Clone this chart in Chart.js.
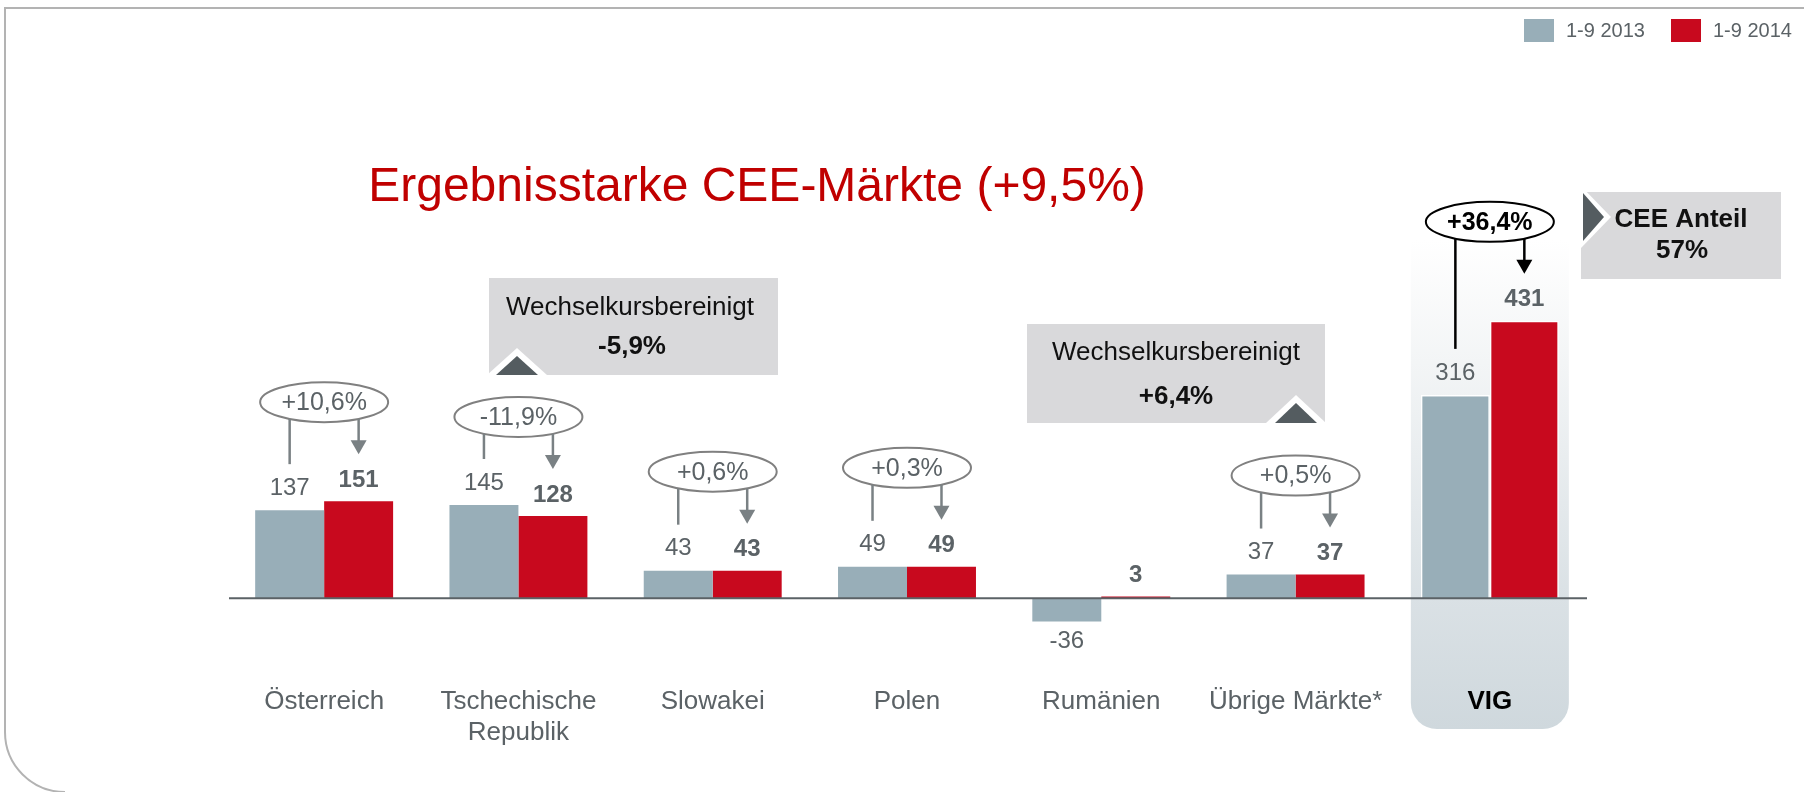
<!DOCTYPE html>
<html>
<head>
<meta charset="utf-8">
<script src="https://cdn.jsdelivr.net/npm/chart.js@4.4.0/dist/chart.umd.min.js"></script>
<style>
  html, body { margin: 0; padding: 0; background: #fff; }
  #wrap { width: 1804px; height: 792px; }
</style>
</head>
<body>
<div id="wrap"><canvas id="chart" width="1804" height="792"></canvas></div>
<script>
// data
var categories = ['Österreich', ['Tschechische', 'Republik'], 'Slowakei', 'Polen', 'Rumänien', 'Übrige Märkte*', 'VIG'];
var seriesLabels = ['1-9 2013', '1-9 2014'];
var values2013 = [137, 145, 43, 49, -36, 37, 316];
var values2014 = [151, 128, 43, 49, 3, 37, 431];
var changes = ['+10,6%', '-11,9%', '+0,6%', '+0,3%', null, '+0,5%', '+36,4%'];
var yRange = [-60, 760];

var titleText = 'Ergebnisstarke CEE-Märkte (+9,5%)';
var fxNote = 'Wechselkursbereinigt';
var fxAdjusted = ['-5,9%', '+6,4%'];
var ceeShare = ['CEE Anteil', '57%'];

var GREY = '#98aeb8', RED = '#c8091e', TXT = '#5b6266', BOX = '#d9d9db';
var FONT = '"Liberation Sans", Arial, Helvetica, sans-serif';
var TOTAL = categories.length - 1;

function font(size, bold) { return (bold ? 'bold ' : '') + size + 'px ' + FONT; }

// y of lower edge of an ellipse at horizontal offset dx
function ellBottom(cy, rx, ry, dx) {
  var k = 1 - (dx * dx) / (rx * rx);
  return cy + ry * Math.sqrt(k > 0 ? k : 0);
}

function tri(ctx, pts, fill) {
  ctx.fillStyle = fill;
  ctx.beginPath();
  ctx.moveTo(pts[0][0], pts[0][1]);
  ctx.lineTo(pts[1][0], pts[1][1]);
  ctx.lineTo(pts[2][0], pts[2][1]);
  ctx.closePath();
  ctx.fill();
}

var deco = {
  id: 'deco',
  beforeDraw: function(chart) {
    var ctx = chart.ctx;
    ctx.save();
    // slide frame
    ctx.strokeStyle = '#b3b3b3';
    ctx.lineWidth = 2;
    ctx.beginPath();
    ctx.moveTo(1804, 8);
    ctx.lineTo(5, 8);
    ctx.lineTo(5, 732);
    ctx.arcTo(5, 792, 65, 792, 60);
    ctx.stroke();
    ctx.restore();
  },
  beforeDatasetsDraw: function(chart) {
    var ctx = chart.ctx;
    var x = chart.scales.x.getPixelForValue(TOTAL);
    var l = x - 79, r = x + 79, t = 240, b = 729, rad = 26;
    var g = ctx.createLinearGradient(0, t, 0, b);
    g.addColorStop(0, 'rgba(255,255,255,1)');
    g.addColorStop(0.25, '#f3f5f6');
    g.addColorStop(0.73, '#dae1e5');
    g.addColorStop(1, '#cfd8dd');
    ctx.save();
    ctx.fillStyle = g;
    ctx.beginPath();
    ctx.moveTo(l, t);
    ctx.lineTo(r, t);
    ctx.lineTo(r, b - rad);
    ctx.arcTo(r, b, r - rad, b, rad);
    ctx.lineTo(l + rad, b);
    ctx.arcTo(l, b, l, b - rad, rad);
    ctx.closePath();
    ctx.fill();
    ctx.restore();
  },
  afterDatasetsDraw: function(chart) {
    var ctx = chart.ctx;
    var xs = chart.scales.x, ys = chart.scales.y;
    var m0 = chart.getDatasetMeta(0).data, m1 = chart.getDatasetMeta(1).data;
    var zero = ys.getPixelForValue(0);
    ctx.save();

    // zero line
    ctx.strokeStyle = '#5b6266';
    ctx.lineWidth = 2;
    ctx.beginPath();
    ctx.moveTo(chart.chartArea.left + 2, zero);
    ctx.lineTo(chart.chartArea.right, zero);
    ctx.stroke();

    ctx.textAlign = 'center';
    ctx.textBaseline = 'middle';

    // value labels
    for (var i = 0; i < categories.length; i++) {
      var a = m0[i], b = m1[i];
      ctx.fillStyle = TXT;
      ctx.font = font(24, false);
      ctx.fillText(String(values2013[i]), a.x, values2013[i] >= 0 ? a.y - 22 : a.y + 20);
      ctx.font = font(24, true);
      ctx.fillText(String(values2014[i]), b.x, b.y - 21);
    }

    // growth ellipses with connectors
    for (var j = 0; j < categories.length; j++) {
      if (!changes[j]) continue;
      var gb = m0[j], rb = m1[j];
      var total = j === TOTAL;
      var cx = xs.getPixelForValue(j), cy = rb.y - 99, rx = 64, ry = 20;
      var line = total ? '#000' : '#7a8184';
      ctx.strokeStyle = total ? '#000' : '#808080';
      ctx.lineWidth = 2;
      ctx.beginPath();
      ctx.ellipse(cx, cy, rx, ry, 0, 0, Math.PI * 2);
      ctx.stroke();
      ctx.fillStyle = total ? '#000' : TXT;
      ctx.font = font(25, total);
      ctx.fillText(changes[j], cx, cy + 1);

      ctx.strokeStyle = line;
      ctx.lineWidth = 2.5;
      ctx.beginPath();
      ctx.moveTo(gb.x, ellBottom(cy, rx, ry, gb.x - cx));
      ctx.lineTo(gb.x, gb.y - 46);
      ctx.stroke();
      var tip = rb.y - 47;
      ctx.beginPath();
      ctx.moveTo(rb.x, ellBottom(cy, rx, ry, rb.x - cx));
      ctx.lineTo(rb.x, tip - 12);
      ctx.stroke();
      tri(ctx, [[rb.x - 8, tip - 14], [rb.x + 8, tip - 14], [rb.x, tip]], line);
    }

    // currency adjusted callouts
    ctx.fillStyle = BOX;
    ctx.fillRect(489, 278, 289, 97);
    tri(ctx, [[487, 375], [547, 375], [517, 348]], '#fff');
    tri(ctx, [[496, 375], [538, 375], [517, 356]], '#545c60');
    ctx.fillStyle = '#111';
    ctx.font = font(26, false);
    ctx.fillText(fxNote, 630, 308);
    ctx.font = font(26, true);
    ctx.fillText(fxAdjusted[0], 632, 347);

    ctx.fillStyle = BOX;
    ctx.fillRect(1027, 324, 298, 99);
    tri(ctx, [[1266, 423], [1326, 423], [1296, 395]], '#fff');
    tri(ctx, [[1275, 423], [1317, 423], [1296, 403]], '#545c60');
    ctx.fillStyle = '#111';
    ctx.font = font(26, false);
    ctx.fillText(fxNote, 1176, 353);
    ctx.font = font(26, true);
    ctx.fillText(fxAdjusted[1], 1176, 397);

    // CEE share box
    ctx.fillStyle = BOX;
    ctx.fillRect(1581, 192, 200, 87);
    tri(ctx, [[1581, 186], [1581, 248], [1611, 217]], '#fff');
    tri(ctx, [[1583, 193], [1583, 241], [1604, 217]], '#545c60');
    ctx.fillStyle = '#111';
    ctx.font = font(26, true);
    ctx.fillText(ceeShare[0], 1681, 220);
    ctx.fillText(ceeShare[1], 1682, 251);

    // category labels
    for (var k = 0; k < categories.length; k++) {
      var lines = [].concat(categories[k]);
      var tot = k === TOTAL;
      ctx.fillStyle = tot ? '#000' : TXT;
      ctx.font = font(26, tot);
      for (var n = 0; n < lines.length; n++) {
        ctx.fillText(lines[n], xs.getPixelForValue(k), 702 + n * 31);
      }
    }

    // title
    ctx.fillStyle = '#c00000';
    ctx.font = font(48, false);
    ctx.textBaseline = 'alphabetic';
    ctx.fillText(titleText, 757, 201);

    // legend
    var lx = [1524, 1671], cols = [GREY, RED];
    ctx.textAlign = 'left';
    ctx.textBaseline = 'middle';
    ctx.font = font(20, false);
    for (var s = 0; s < 2; s++) {
      ctx.fillStyle = cols[s];
      ctx.fillRect(lx[s], 19, 30, 23);
      ctx.fillStyle = TXT;
      ctx.fillText(seriesLabels[s], lx[s] + 42, 31);
    }
    ctx.restore();
  }
};

function vigBorder(c) { return c.dataIndex === TOTAL ? 1.5 : 0; }

new Chart(document.getElementById('chart'), {
  type: 'bar',
  data: {
    labels: categories,
    datasets: [
      { label: seriesLabels[0], data: values2013, backgroundColor: GREY,
        borderColor: '#fff', borderWidth: vigBorder, borderSkipped: 'start' },
      { label: seriesLabels[1], data: values2014, backgroundColor: RED,
        borderColor: '#fff', borderWidth: vigBorder, borderSkipped: 'start' }
    ]
  },
  options: {
    responsive: false,
    animation: false,
    layout: { padding: { left: 227, right: 217, top: 109, bottom: 155 } },
    categoryPercentage: 0.71,
    barPercentage: 1.0,
    scales: {
      x: { display: false },
      y: { display: false, min: yRange[0], max: yRange[1] }
    },
    plugins: { legend: { display: false }, tooltip: { enabled: false } }
  },
  plugins: [deco]
});
</script>
</body>
</html>
